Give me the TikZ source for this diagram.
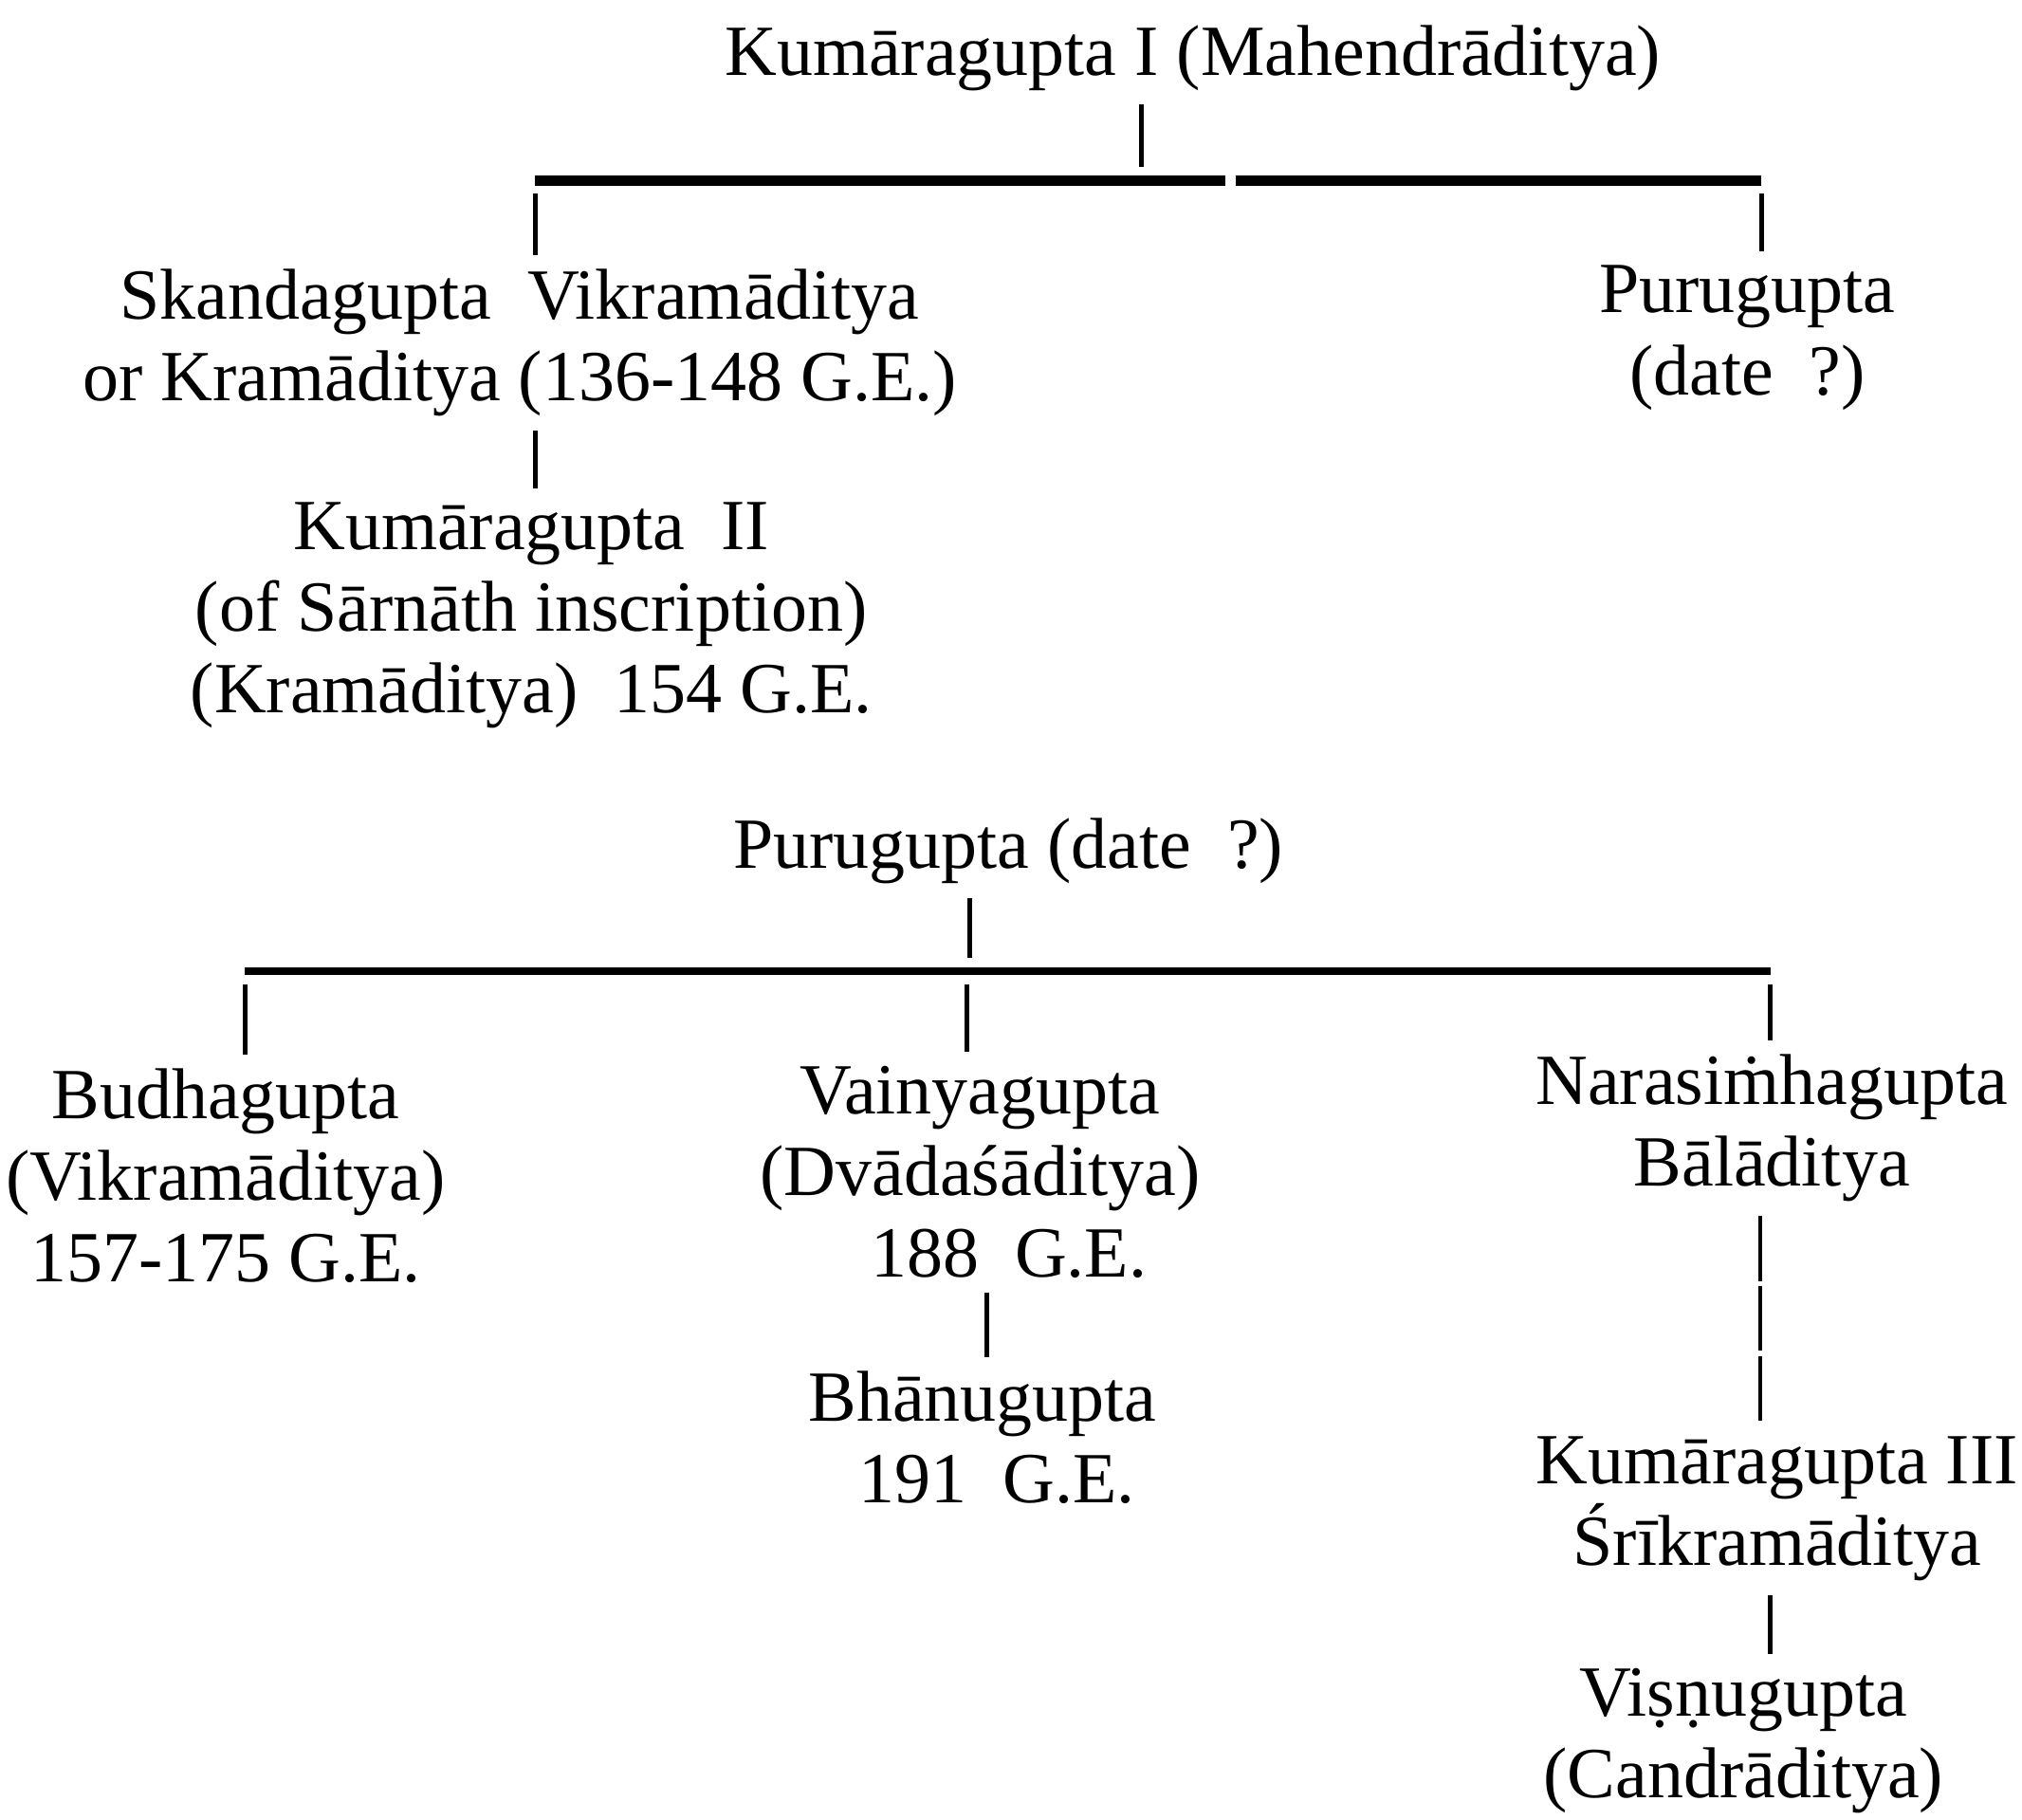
\documentclass[tikz,border=0pt]{standalone}
\usepackage{fontspec}
\setmainfont{Liberation Serif}

\begin{document}
\begin{tikzpicture}[x=0.0136cm,y=-0.0136cm,
		every node/.style={align=center,inner sep=0pt,font=\fontsize{21.6}{24.5}\selectfont},
		link/.style={line width=1.4pt,shorten <=4pt,shorten >=4pt},
		bar/.style={line width=3pt},
		broken/.style={link,dash pattern=on 19.5pt off 1.5pt}]

		\useasboundingbox (0,0) rectangle (1568,1411);

		% first tree
		\node (kgone) at (925, 45) {Kumāragupta I (Mahendrāditya)};
		\node (skanda) at (403, 266) {Skandagupta~~Vikramāditya\\or Kramāditya (136-148 G.E.)};
		\node (purua) at (1355, 262) {Purugupta\\(date~~?)};
		\node (kgtwo) at (412, 477) {Kumāragupta~~II\\(of Sārnāth inscription)\\(Kramāditya)~~154 G.E.};

		\coordinate (topjoin) at (885, 140);
		\coordinate (skdrop) at (415, 140);
		\coordinate (gapL) at (950, 140);
		\coordinate (gapR) at (958, 140);
		\coordinate (pudrop) at (1366, 140);

		\draw[link] (kgone.south -| topjoin) -- (topjoin);
		\draw[bar] (skdrop) -- (gapL);
		\draw[bar] (gapR) -- (pudrop);
		\draw[link] (skdrop) -- (skanda.north -| skdrop);
		\draw[link] (pudrop) -- (purua.north -| pudrop);
		\draw[link] (skanda.south -| skdrop) -- (kgtwo.north -| skdrop);

		% second tree
		\node (purub) at (782, 660) {Purugupta (date~~?)};
		\node (budha) at (175, 912) {Budhagupta\\(Vikramāditya)\\157-175 G.E.};
		\node (vainya) at (760, 909) {Vainyagupta\\(Dvādaśāditya)\\\hspace*{0.8em}188~~G.E.};
		\node (bhanu) at (762, 1115) {Bhānugupta\\\hspace*{0.4em}191~~G.E.};
		\node (nara) at (1374, 875) {Narasiṁhagupta\\Bālāditya};
		\node (kgthree) at (1378, 1170) {Kumāragupta III\\Śrīkramāditya};
		\node (vishnu) at (1352, 1350) {Viṣṇugupta\\(Candrāditya)};

		\coordinate (pujoin) at (752, 753);
		\coordinate (budrop) at (190, 753);
		\coordinate (vadrop) at (750, 753);
		\coordinate (nadrop) at (1373, 753);

		\draw[link] (purub.south -| pujoin) -- (pujoin);
		\draw[bar,line width=2.4pt] (budrop) -- (nadrop);
		\foreach \drop/\kid in {budrop/budha, vadrop/vainya, nadrop/nara}
		\draw[link] (\drop) -- (\kid.north -| \drop);
		\draw[link] (vainya.south -| 765,0) -- (bhanu.north -| 765,0);
		\draw[broken] (nara.south -| 1365,0) -- (kgthree.north -| 1365,0);
		\draw[link] (kgthree.south -| 1373,0) -- (vishnu.north -| 1373,0);

	\end{tikzpicture}
\end{document}
